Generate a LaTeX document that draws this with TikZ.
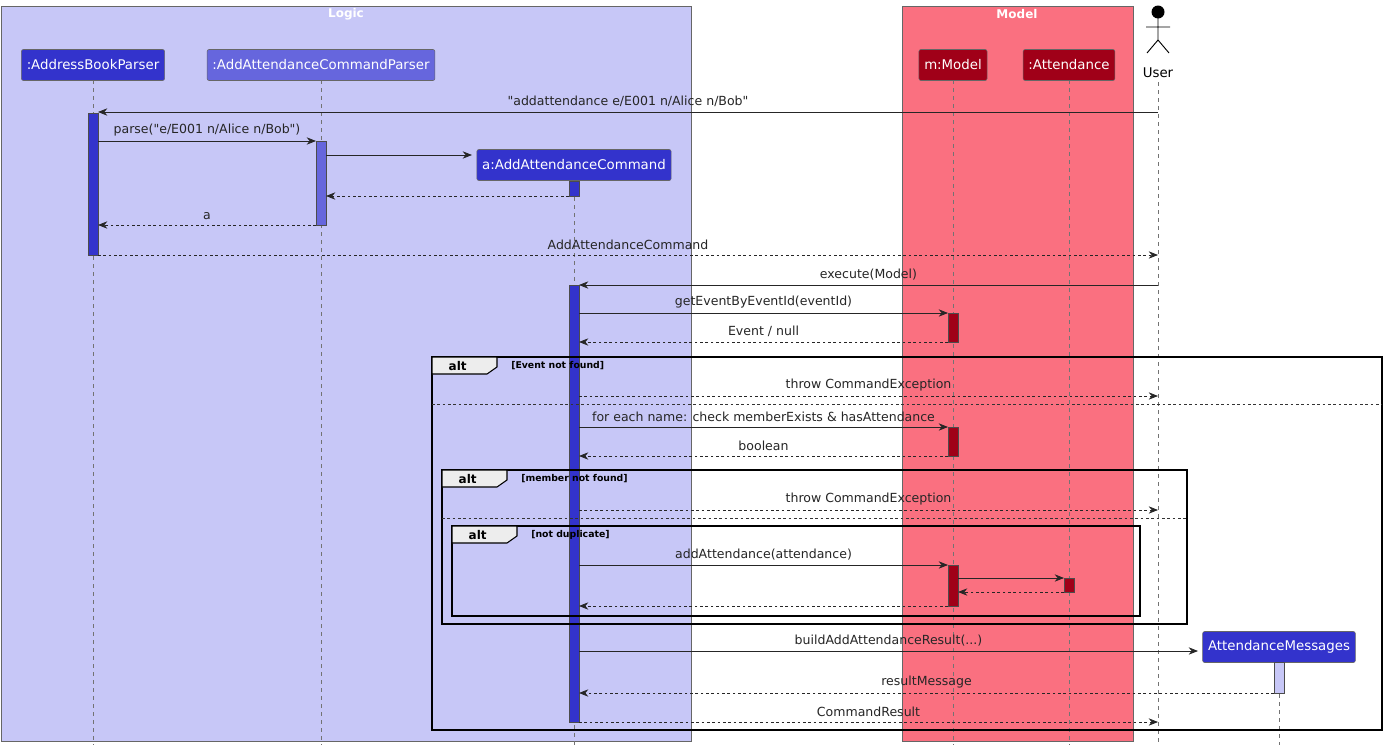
\documentclass[tikz,border=0pt]{standalone}
\usepackage{fontspec}
\setmainfont{DejaVu Sans}[Ligatures=TeXOff]
\usetikzlibrary{arrows.meta}
\definecolor{logicbg}{HTML}{C7C7F7}
\definecolor{modelbg}{HTML}{FA7080}
\definecolor{dblue}{HTML}{3333CC}
\definecolor{mblue}{HTML}{6666DD}
\definecolor{dred}{HTML}{A00018}
\tikzset{
  x=0.75pt,y=-0.75pt,
  part/.style={draw=black!60,rounded corners=1.5pt,text=white,font=\fontsize{10}{12}\selectfont,minimum height=23.25pt,inner xsep=4pt},
  life/.style={draw=black!55,dashed,dash pattern=on 3pt off 3pt,line width=0.5pt},
  msg/.style={-{Stealth[length=7pt,width=5.5pt]},line width=0.6pt,black!85},
  ret/.style={msg,dash pattern=on 2pt off 2pt},
  lbl/.style={font=\fontsize{9.4}{11}\selectfont,above=2.5pt,inner sep=1pt},
  act/.style={draw=black!70,line width=0.5pt},
  frm/.style={draw=black,line width=1pt},
  guard/.style={font=\bfseries\fontsize{7}{8}\selectfont,anchor=west,inner sep=0pt},
}
\newcommand{\mymsg}[5][msg]{\draw[#1] (#2,#4) -- node[lbl]{#5} (#3,#4);}
\newcommand{\alttab}[3]{\draw[line width=0.8pt,fill=black!7] (#1,#2) -- (#1+65,#2) -- (#1+65,#2+10) -- (#1+55,#2+17) -- (#1,#2+17) -- cycle;
  \node[font=\bfseries\fontsize{9}{10}\selectfont,anchor=west] at (#1+12,#2+9) {alt};
  \node[guard] at (#1+79,#2+9) {#3};}
\begin{document}
\begin{tikzpicture}
\useasboundingbox (0,0) rectangle (1388,753);
\fill[white] (0,0) rectangle (1388,753);
% boxes
\draw[fill=logicbg,draw=black!60] (1,6) rectangle (691,741);
\node[text=white,font=\bfseries\fontsize{9}{10}\selectfont] (logict) at (346,14) {Logic};
\draw[fill=modelbg,draw=black!60] (902,6) rectangle (1133,741);
\node[text=white,font=\bfseries\fontsize{9}{10}\selectfont] (modelt) at (1017,14) {Model};
% lifelines
\foreach \x/\a/\b in {93/80/745, 321/80/745, 574/181/745, 953/80/745, 1069/80/745, 1158/82/745, 1279/662/745}
  \draw[life] (\x,\a) -- (\x,\b);
% participants
\node[part,fill=dblue] (abp) at (93,65) {:AddressBookParser};
\node[part,fill=mblue] (aacp) at (321,65) {:AddAttendanceCommandParser};
\node[part,fill=dred] (mm) at (953,65) {m:Model};
\node[part,fill=dred] (att) at (1069,65) {:Attendance};
\node[part,fill=dblue] (cmd) at (574,165) {a:AddAttendanceCommand};
\node[part,fill=dblue] (msgs) at (1279,647) {AttendanceMessages};
% actor
\fill (1158,12) circle (6.5);
\draw[line width=0.7pt] (1158,18) -- (1158,40) (1146,27) -- (1170,27) (1158,40) -- (1147,53) (1158,40) -- (1169,53);
\node[font=\fontsize{10}{12}\selectfont] (user) at (1158,73) {User};
% activations
\draw[act,fill=dblue] (88,113) rectangle (98,255);
\draw[act,fill=mblue] (316,141) rectangle (326,225);
\draw[act,fill=dblue] (569,181) rectangle (579,196);
\draw[act,fill=dblue] (569,285) rectangle (579,722);
\draw[act,fill=dred] (948,313) rectangle (958,342);
\draw[act,fill=dred] (948,427) rectangle (958,456);
\draw[act,fill=dred] (948,565) rectangle (958,606);
\draw[act,fill=dred] (1064,578) rectangle (1074,592);
\draw[act,fill=logicbg] (1274,662) rectangle (1284,693);
% messages
\mymsg{1158}{98}{112}{"addattendance e/E001 n/Alice n/Bob"}
\mymsg{98}{316}{141}{parse("e/E001 n/Alice n/Bob")}
\mymsg{326}{472}{155}{}
\mymsg[ret]{569}{326}{196}{}
\mymsg[ret]{316}{98}{225}{a}
\mymsg[ret]{98}{1158}{255}{AddAttendanceCommand}
\mymsg{1158}{579}{285}{execute(Model)}
\mymsg{579}{948}{313}{getEventByEventId(eventId)}
\mymsg[ret]{948}{579}{342}{Event / null}
% alt 1
\draw[frm] (432,357) rectangle (1382,730);
\alttab{432}{357}{[Event not found]}
\mymsg[ret]{579}{1158}{396}{throw CommandException}
\draw[black!80,dash pattern=on 2pt off 2pt] (432,404) -- (1382,404);
\mymsg{579}{948}{427}{for each name: check memberExists \& hasAttendance}
\mymsg[ret]{948}{579}{456}{boolean}
% alt 2
\draw[frm] (442,470) rectangle (1187,624);
\alttab{442}{470}{[member not found]}
\mymsg[ret]{579}{1158}{510}{throw CommandException}
\draw[black!80,dash pattern=on 2pt off 2pt] (442,518) -- (1187,518);
% alt 3
\draw[frm] (452,526) rectangle (1140,616);
\alttab{452}{526}{[not duplicate]}
\mymsg{579}{948}{565}{addAttendance(attendance)}
\mymsg{958}{1064}{578}{}
\mymsg[ret]{1064}{958}{592}{}
\mymsg[ret]{948}{579}{606}{}
\mymsg{579}{1198}{651}{buildAddAttendanceResult(...)}
\mymsg[ret]{1274}{579}{693}{resultMessage}
\mymsg[ret]{579}{1158}{722}{CommandResult}
\end{tikzpicture}
\end{document}
